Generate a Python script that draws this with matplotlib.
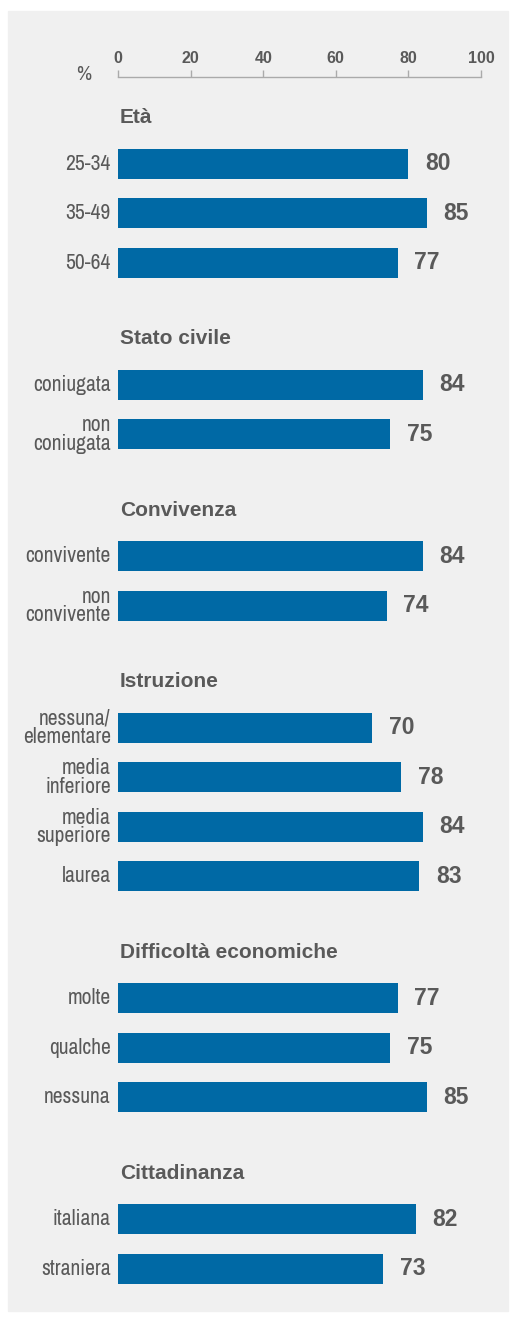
import matplotlib.pyplot as plt
from matplotlib.patches import Rectangle

# groups and their categories / values (%)
groups = ["Età", "Stato civile", "Convivenza", "Istruzione",
          "Difficoltà economiche", "Cittadinanza"]
labels = [
    ["25-34", "35-49", "50-64"],
    ["coniugata", "non\nconiugata"],
    ["convivente", "non\nconvivente"],
    ["nessuna/\nelementare", "media\ninferiore", "media\nsuperiore", "laurea"],
    ["molte", "qualche", "nessuna"],
    ["italiana", "straniera"],
]
values = [
    [80, 85, 77],
    [84, 75],
    [84, 74],
    [70, 78, 84, 83],
    [77, 75, 85],
    [82, 73],
]
ticks = [0, 20, 40, 60, 80, 100]

W, H = 518, 1317
bar_col = "#0069a5"
txt_col = "#595959"
narrow = ["Archivo Narrow", "DejaVu Sans"]
sans = ["Liberation Sans", "DejaVu Sans"]

fig = plt.figure(figsize=(W / 100, H / 100), dpi=100)
fig.patch.set_facecolor("white")
fig.patches.append(Rectangle((8 / W, 1 - 1311 / H), 500 / W, 1300 / H,
                             transform=fig.transFigure, color="#f0f0f0",
                             zorder=-10))

top, bottom = 77, 1310
ax = fig.add_axes([118 / W, 1 - bottom / H, (481 - 118) / W, (bottom - top) / H])
ax.set_facecolor("none")
ax.set_xlim(0, 100)
ax.set_ylim(bottom, top)

# vertical layout in pixel units
step, head_gap, group_gap, bar_h = 49.5, 46, 76, 30
y = 118
for g, labs, vals in zip(groups, labels, values):
    ax.text(0.5, y, g, ha="left", va="center", fontsize=15, fontweight="bold",
            color=txt_col, family=sans)
    y += head_gap
    for lab, v in zip(labs, vals):
        ax.barh(y, v, height=bar_h, color=bar_col, zorder=2)
        ax.text(-2, y, lab, ha="right", va="center", ma="right", fontsize=15.5,
                color=txt_col, family=narrow, linespacing=0.92)
        ax.annotate(str(v), (v, y), xytext=(12, 0), textcoords="offset points",
                    ha="left", va="center", fontsize=16.5, fontweight="bold",
                    color=txt_col, family=sans)
        y += step
    y += group_gap - step

ax.xaxis.tick_top()
ax.set_xticks(ticks)
ax.set_xticklabels([str(t) for t in ticks], fontsize=11.5, fontweight="bold",
                   color=txt_col, family=sans)
ax.tick_params(axis="x", direction="out", length=5, width=1, color="#aaaaaa",
               pad=3)
ax.set_yticks([])
for s in ["left", "right", "bottom"]:
    ax.spines[s].set_visible(False)
ax.spines["top"].set_color("#aaaaaa")
ax.spines["top"].set_linewidth(1)

fig.text(84 / W, 1 - 75 / H, "%", ha="center", va="center", fontsize=15,
         color=txt_col, family=narrow)

fig.savefig("out.png", dpi=100)
